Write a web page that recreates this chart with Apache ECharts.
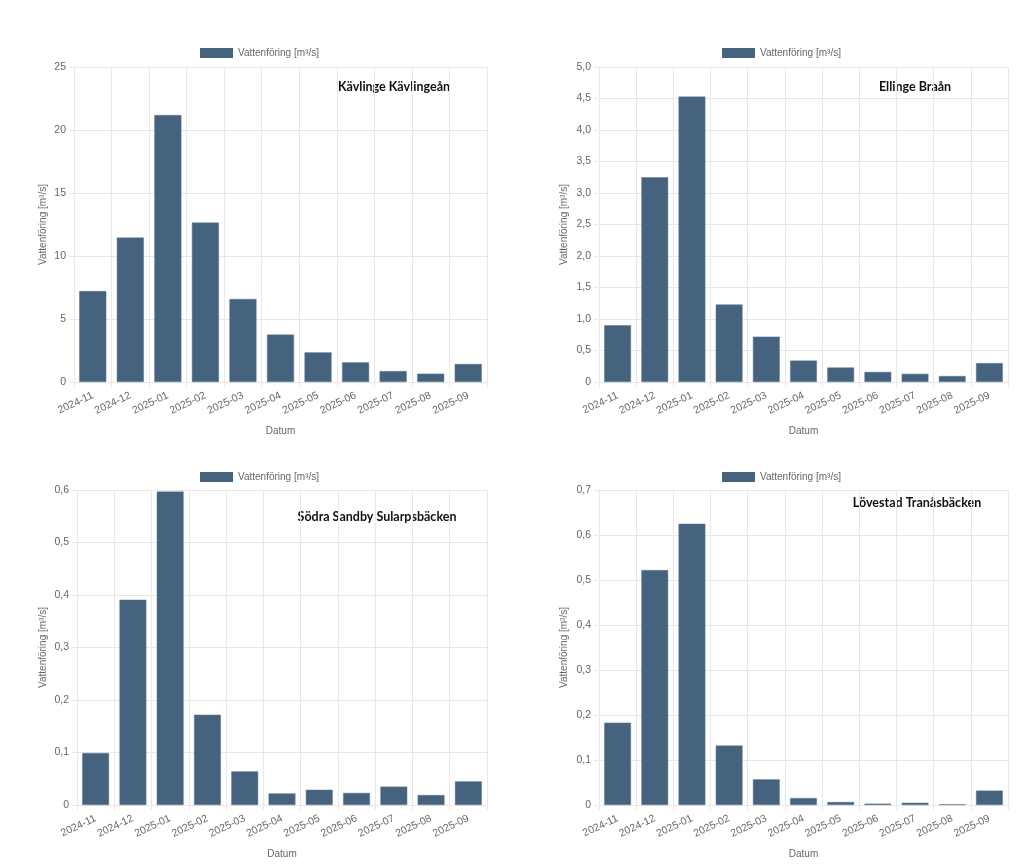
<!DOCTYPE html>
<html>
<head>
<meta charset="utf-8">
<script src="https://cdn.jsdelivr.net/npm/echarts@6/dist/echarts.min.js"></script>
<style>
	html, body { margin: 0; padding: 0; background: #fff; }
	#chart { width: 1024px; height: 867px; }
</style>
</head>
<body>
<div id="chart"></div>
<script>
var months = ['2024-11', '2024-12', '2025-01', '2025-02', '2025-03', '2025-04', '2025-05', '2025-06', '2025-07', '2025-08', '2025-09'];
var seriesName = 'Vattenföring [m³/s]';

var stationNames = ['Kävlinge Kävlingeån', 'Ellinge Braån', 'Södra Sandby Sularpsbäcken', 'Lövestad Tranåsbäcken'];

var kavlingeFlow = [7.22, 11.46, 21.19, 12.65, 6.59, 3.76, 2.35, 1.56, 0.87, 0.66, 1.43];
var ellingeFlow = [0.90, 3.25, 4.53, 1.23, 0.72, 0.34, 0.23, 0.16, 0.13, 0.095, 0.30];
var sodraSandbyFlow = [0.099, 0.391, 0.597, 0.172, 0.064, 0.022, 0.029, 0.023, 0.035, 0.019, 0.045];
var lovestadFlow = [0.183, 0.522, 0.625, 0.132, 0.057, 0.0155, 0.0067, 0.003, 0.005, 0.0015, 0.032];

var yMax = [25, 5, 0.6, 0.7];
var yStep = [5, 0.5, 0.1, 0.1];

var allFlows = [kavlingeFlow, ellingeFlow, sodraSandbyFlow, lovestadFlow];

var colors = {
	bar: '#45637e',
	barEdge: '#5a7891',
	text: '#666666',
	grid: '#e8e8e8'
};

// layout of the four panels (pixels)
var panels = [
	{ left: 74, right: 537, top: 67, bottom: 485, legendX: 200, legendY: 48, titleX: 394, titleY: 87, nameGap: 26 },
	{ left: 599, right: 16, top: 67, bottom: 485, legendX: 722, legendY: 48, titleX: 915, titleY: 87, nameGap: 30 },
	{ left: 77, right: 537, top: 490, bottom: 62, legendX: 200, legendY: 472, titleX: 377, titleY: 517, nameGap: 29 },
	{ left: 599, right: 16, top: 490, bottom: 62, legendX: 722, legendY: 472, titleX: 917, titleY: 503, nameGap: 30 }
];

function decimalComma(v) {
	if (v === 0) return '0';
	return v.toFixed(1).replace('.', ',');
}

var grids = [], xAxes = [], yAxes = [], series = [], legends = [], texts = [];

for (var i = 0; i < panels.length; i++) {
	var p = panels[i];
	grids.push({ left: p.left, right: p.right, top: p.top, bottom: p.bottom, containLabel: false });

	xAxes.push({
		type: 'category',
		gridIndex: i,
		data: months,
		name: 'Datum',
		nameLocation: 'middle',
		nameGap: 44,
		nameTextStyle: { fontSize: 10, color: colors.text, fontFamily: 'Liberation Sans' },
		axisLine: { show: true, lineStyle: { color: colors.grid } },
		axisTick: { show: true, length: 5, lineStyle: { color: colors.grid } },
		axisLabel: {
			interval: 0,
			rotate: 25,
			margin: 13,
			fontSize: 10.5,
			color: colors.text,
			fontFamily: 'Liberation Sans'
		},
		splitLine: { show: true, lineStyle: { color: colors.grid } }
	});

	yAxes.push({
		type: 'value',
		gridIndex: i,
		min: 0,
		max: yMax[i],
		interval: yStep[i],
		name: seriesName,
		nameLocation: 'middle',
		nameRotate: 90,
		nameGap: p.nameGap,
		nameTextStyle: { fontSize: 10, color: colors.text, fontFamily: 'Liberation Sans' },
		axisLine: { show: true, lineStyle: { color: colors.grid } },
		axisTick: { show: true, length: 5, lineStyle: { color: colors.grid } },
		axisLabel: {
			fontSize: 10.5,
			color: colors.text,
			margin: 8,
			fontFamily: 'Liberation Sans',
			formatter: i === 0 ? function (v) { return String(v); } : decimalComma
		},
		splitLine: { show: true, lineStyle: { color: colors.grid } }
	});

	series.push({
		type: 'bar',
		name: seriesName,
		xAxisIndex: i,
		yAxisIndex: i,
		data: allFlows[i],
		barCategoryGap: '28%',
		itemStyle: { color: colors.bar, borderColor: colors.barEdge, borderWidth: 0.5 },
		animation: false
	});

	legends.push({
		left: p.legendX,
		top: p.legendY,
		padding: 0,
		itemWidth: 33,
		itemHeight: 10,
		itemGap: 5,
		selectedMode: false,
		itemStyle: { borderWidth: 0 },
		data: [{ name: seriesName, icon: 'rect' }],
		textStyle: { fontSize: 10, color: colors.text, fontFamily: 'Liberation Sans' }
	});

	texts.push({
		type: 'text',
		x: p.titleX,
		y: p.titleY,
		style: {
			text: stationNames[i],
			fill: '#111111',
			font: 'bold 12.5px Lato',
			textAlign: 'center',
			textVerticalAlign: 'middle'
		}
	});
}

var chart = echarts.init(document.getElementById('chart'));
chart.setOption({
	backgroundColor: '#ffffff',
	animation: false,
	legend: legends,
	grid: grids,
	xAxis: xAxes,
	yAxis: yAxes,
	series: series,
	graphic: texts
});
</script>
</body>
</html>
